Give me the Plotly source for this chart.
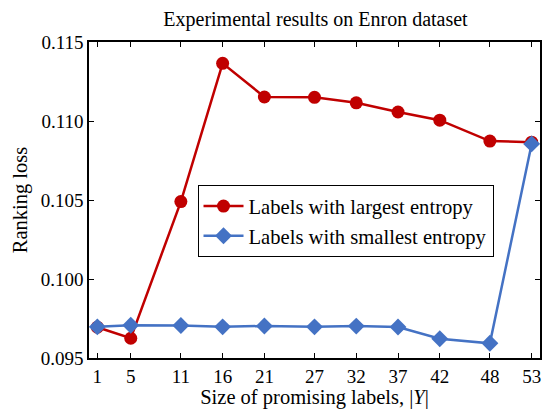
import plotly.graph_objects as go

# Size of promising labels |Y|
label_sizes = [1, 5, 11, 16, 21, 27, 32, 37, 42, 48, 53]

# Ranking loss for each label-selection strategy
largest_entropy = [0.09695, 0.09625, 0.10490, 0.11365, 0.11152, 0.11150,
                   0.11115, 0.11057, 0.11005, 0.10873, 0.10866]
smallest_entropy = [0.09697, 0.09707, 0.09706, 0.09697, 0.09703, 0.09697,
                    0.09702, 0.09696, 0.09622, 0.09593, 0.10855]

y_ticks = [0.095, 0.100, 0.105, 0.110, 0.115]

FONT = "Liberation Serif, Times New Roman, serif"
RED = "#C00000"
BLUE = "#4472C4"

fig = go.Figure()

fig.add_trace(go.Scatter(
    x=label_sizes, y=largest_entropy,
    mode="lines+markers",
    name="Labels with largest entropy",
    line=dict(color=RED, width=2.5),
    marker=dict(symbol="circle", size=13, color=RED),
))

fig.add_trace(go.Scatter(
    x=label_sizes, y=smallest_entropy,
    mode="lines+markers",
    name="Labels with smallest entropy",
    line=dict(color=BLUE, width=2.5),
    marker=dict(symbol="diamond", size=13, color=BLUE),
))

axis_common = dict(
    showline=True, linecolor="black", linewidth=1.5,
    mirror="ticks", ticks="inside", ticklen=5, tickwidth=1, tickcolor="black",
    showgrid=False, zeroline=False,
    tickfont=dict(family=FONT, size=19, color="black"),
)

fig.update_xaxes(
    range=[0, 54], tickvals=label_sizes,
    title=dict(text="Size of promising labels, |<i>Y</i>|",
               font=dict(family=FONT, size=20.5, color="black"), standoff=2),
    **axis_common,
)
fig.update_yaxes(
    range=[0.095, 0.115], tickvals=y_ticks, tickformat=".3f",
    title=dict(text="Ranking loss",
               font=dict(family=FONT, size=20.5, color="black"), standoff=8),
    **axis_common,
)

fig.update_layout(
    width=548, height=409,
    margin=dict(l=89, r=6, t=42, b=51),
    paper_bgcolor="white", plot_bgcolor="white",
    title=dict(text="Experimental results on Enron dataset",
               font=dict(family=FONT, size=20, color="black"),
               x=0.5757, xanchor="center", y=1 - 19 / 409, yanchor="middle"),
    legend=dict(
        x=0.2406, y=0.547, xanchor="left", yanchor="top",
        bgcolor="white", bordercolor="black", borderwidth=1,
        font=dict(family=FONT, size=20.6, color="black"),
        itemwidth=40, tracegroupgap=0,
    ),
    showlegend=True,
)

fig.write_html("out.html")
